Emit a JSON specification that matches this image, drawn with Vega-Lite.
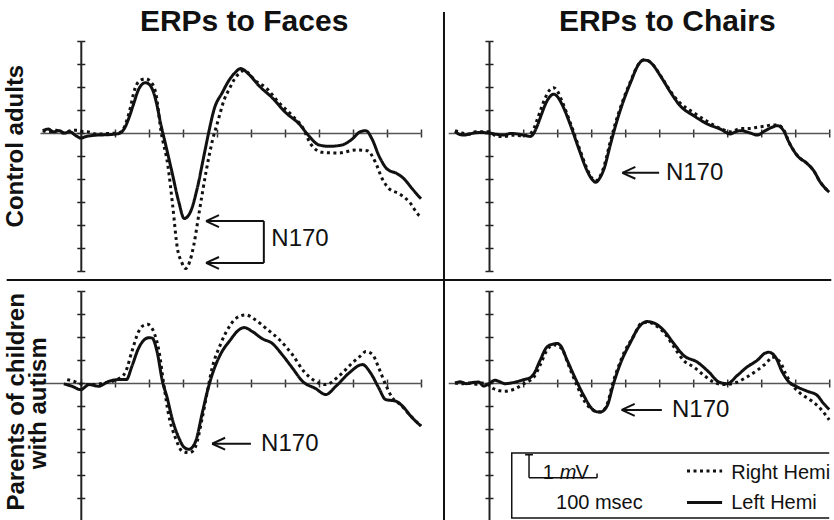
{
"$schema":"https://vega.github.io/schema/vega-lite/v6.json",
"padding":{"left":3,"top":6,"right":0,"bottom":0},
"background":"white",
"config":{"view":{"stroke":null},"font":"Liberation Sans"},
"datasets":{
"erp":[
{"p":"TL","h":"Left","t":-56,"v":0.1},{"p":"TL","h":"Left","t":-48,"v":0.17},{"p":"TL","h":"Left","t":-40,"v":0.05},{"p":"TL","h":"Left","t":-32,"v":0.1},{"p":"TL","h":"Left","t":-24,"v":0},{"p":"TL","h":"Left","t":-16,"v":0.05},{"p":"TL","h":"Left","t":-8,"v":-0.1},{"p":"TL","h":"Left","t":0,"v":-0.22},{"p":"TL","h":"Left","t":8,"v":-0.15},{"p":"TL","h":"Left","t":20,"v":-0.1},{"p":"TL","h":"Left","t":35,"v":-0.08},{"p":"TL","h":"Left","t":50,"v":-0.05},{"p":"TL","h":"Left","t":58,"v":0},{"p":"TL","h":"Left","t":65,"v":0.25},{"p":"TL","h":"Left","t":71,"v":0.68},{"p":"TL","h":"Left","t":78,"v":1.3},{"p":"TL","h":"Left","t":85,"v":1.9},{"p":"TL","h":"Left","t":95,"v":2.19},{"p":"TL","h":"Left","t":101,"v":2.1},{"p":"TL","h":"Left","t":107,"v":1.76},{"p":"TL","h":"Left","t":112,"v":1.2},{"p":"TL","h":"Left","t":117,"v":0.46},{"p":"TL","h":"Left","t":125,"v":-0.55},{"p":"TL","h":"Left","t":134,"v":-1.7},{"p":"TL","h":"Left","t":144,"v":-3.0},{"p":"TL","h":"Left","t":152,"v":-3.72},{"p":"TL","h":"Left","t":161,"v":-3.44},{"p":"TL","h":"Left","t":171,"v":-2.42},{"p":"TL","h":"Left","t":181,"v":-0.98},{"p":"TL","h":"Left","t":188,"v":0.03},{"p":"TL","h":"Left","t":196,"v":1.04},{"p":"TL","h":"Left","t":208,"v":1.76},{"p":"TL","h":"Left","t":218,"v":2.3},{"p":"TL","h":"Left","t":226,"v":2.6},{"p":"TL","h":"Left","t":235,"v":2.8},{"p":"TL","h":"Left","t":247,"v":2.55},{"p":"TL","h":"Left","t":262,"v":2.05},{"p":"TL","h":"Left","t":281,"v":1.54},{"p":"TL","h":"Left","t":301,"v":0.89},{"p":"TL","h":"Left","t":321,"v":0.39},{"p":"TL","h":"Left","t":335,"v":-0.12},{"p":"TL","h":"Left","t":350,"v":-0.52},{"p":"TL","h":"Left","t":365,"v":-0.58},{"p":"TL","h":"Left","t":384,"v":-0.52},{"p":"TL","h":"Left","t":399,"v":-0.26},{"p":"TL","h":"Left","t":411,"v":0.06},{"p":"TL","h":"Left","t":419,"v":0.1},{"p":"TL","h":"Left","t":428,"v":-0.26},{"p":"TL","h":"Left","t":438,"v":-0.98},{"p":"TL","h":"Left","t":450,"v":-1.56},{"p":"TL","h":"Left","t":465,"v":-1.77},{"p":"TL","h":"Left","t":475,"v":-1.99},{"p":"TL","h":"Left","t":487,"v":-2.42},{"p":"TL","h":"Left","t":500,"v":-2.86},
{"p":"TL","h":"Right","t":-56,"v":0.1},{"p":"TL","h":"Right","t":-46,"v":0.05},{"p":"TL","h":"Right","t":-36,"v":0.12},{"p":"TL","h":"Right","t":-26,"v":0},{"p":"TL","h":"Right","t":-15,"v":0.1},{"p":"TL","h":"Right","t":-5,"v":0.12},{"p":"TL","h":"Right","t":0,"v":0.08},{"p":"TL","h":"Right","t":10,"v":0.05},{"p":"TL","h":"Right","t":25,"v":-0.05},{"p":"TL","h":"Right","t":40,"v":-0.02},{"p":"TL","h":"Right","t":55,"v":0},{"p":"TL","h":"Right","t":62,"v":0.15},{"p":"TL","h":"Right","t":71,"v":0.89},{"p":"TL","h":"Right","t":80,"v":1.97},{"p":"TL","h":"Right","t":88,"v":2.3},{"p":"TL","h":"Right","t":95,"v":2.36},{"p":"TL","h":"Right","t":102,"v":2.25},{"p":"TL","h":"Right","t":110,"v":1.76},{"p":"TL","h":"Right","t":118,"v":0.05},{"p":"TL","h":"Right","t":128,"v":-1.42},{"p":"TL","h":"Right","t":135,"v":-3.15},{"p":"TL","h":"Right","t":142,"v":-5.02},{"p":"TL","h":"Right","t":148,"v":-5.6},{"p":"TL","h":"Right","t":154,"v":-5.89},{"p":"TL","h":"Right","t":160,"v":-5.6},{"p":"TL","h":"Right","t":166,"v":-4.88},{"p":"TL","h":"Right","t":174,"v":-3.44},{"p":"TL","h":"Right","t":184,"v":-1.7},{"p":"TL","h":"Right","t":194,"v":-0.26},{"p":"TL","h":"Right","t":201,"v":0.46},{"p":"TL","h":"Right","t":211,"v":1.47},{"p":"TL","h":"Right","t":218,"v":1.9},{"p":"TL","h":"Right","t":226,"v":2.35},{"p":"TL","h":"Right","t":233,"v":2.6},{"p":"TL","h":"Right","t":240,"v":2.72},{"p":"TL","h":"Right","t":257,"v":2.26},{"p":"TL","h":"Right","t":272,"v":1.97},{"p":"TL","h":"Right","t":291,"v":1.32},{"p":"TL","h":"Right","t":311,"v":0.75},{"p":"TL","h":"Right","t":326,"v":0.24},{"p":"TL","h":"Right","t":338,"v":-0.48},{"p":"TL","h":"Right","t":355,"v":-0.84},{"p":"TL","h":"Right","t":379,"v":-0.87},{"p":"TL","h":"Right","t":404,"v":-0.74},{"p":"TL","h":"Right","t":421,"v":-0.77},{"p":"TL","h":"Right","t":433,"v":-1.27},{"p":"TL","h":"Right","t":443,"v":-1.99},{"p":"TL","h":"Right","t":453,"v":-2.42},{"p":"TL","h":"Right","t":468,"v":-2.64},{"p":"TL","h":"Right","t":483,"v":-3.0},{"p":"TL","h":"Right","t":497,"v":-3.58},{"p":"TL","h":"Right","t":500,"v":-3.65},
{"p":"TR","h":"Left","t":-50,"v":0.06},{"p":"TR","h":"Left","t":-44,"v":-0.05},{"p":"TR","h":"Left","t":-37,"v":-0.09},{"p":"TR","h":"Left","t":-30,"v":-0.05},{"p":"TR","h":"Left","t":-22,"v":0},{"p":"TR","h":"Left","t":-12,"v":0.02},{"p":"TR","h":"Left","t":0,"v":0},{"p":"TR","h":"Left","t":10,"v":-0.05},{"p":"TR","h":"Left","t":22,"v":-0.09},{"p":"TR","h":"Left","t":32,"v":-0.02},{"p":"TR","h":"Left","t":41,"v":-0.04},{"p":"TR","h":"Left","t":52,"v":-0.1},{"p":"TR","h":"Left","t":61,"v":-0.15},{"p":"TR","h":"Left","t":66,"v":0},{"p":"TR","h":"Left","t":71,"v":0.32},{"p":"TR","h":"Left","t":77,"v":0.8},{"p":"TR","h":"Left","t":83,"v":1.26},{"p":"TR","h":"Left","t":90,"v":1.6},{"p":"TR","h":"Left","t":95,"v":1.69},{"p":"TR","h":"Left","t":100,"v":1.6},{"p":"TR","h":"Left","t":107,"v":1.26},{"p":"TR","h":"Left","t":120,"v":0.32},{"p":"TR","h":"Left","t":132,"v":-0.69},{"p":"TR","h":"Left","t":144,"v":-1.63},{"p":"TR","h":"Left","t":151,"v":-2.0},{"p":"TR","h":"Left","t":157,"v":-2.14},{"p":"TR","h":"Left","t":163,"v":-1.95},{"p":"TR","h":"Left","t":169,"v":-1.56},{"p":"TR","h":"Left","t":178,"v":-0.55},{"p":"TR","h":"Left","t":186,"v":0.32},{"p":"TR","h":"Left","t":196,"v":1.26},{"p":"TR","h":"Left","t":208,"v":2.19},{"p":"TR","h":"Left","t":220,"v":2.99},{"p":"TR","h":"Left","t":227,"v":3.17},{"p":"TR","h":"Left","t":233,"v":3.15},{"p":"TR","h":"Left","t":240,"v":2.99},{"p":"TR","h":"Left","t":252,"v":2.48},{"p":"TR","h":"Left","t":267,"v":1.76},{"p":"TR","h":"Left","t":281,"v":1.18},{"p":"TR","h":"Left","t":301,"v":0.75},{"p":"TR","h":"Left","t":321,"v":0.39},{"p":"TR","h":"Left","t":340,"v":0.17},{"p":"TR","h":"Left","t":355,"v":-0.04},{"p":"TR","h":"Left","t":362,"v":0.05},{"p":"TR","h":"Left","t":370,"v":0.1},{"p":"TR","h":"Left","t":384,"v":0},{"p":"TR","h":"Left","t":394,"v":-0.09},{"p":"TR","h":"Left","t":406,"v":0.1},{"p":"TR","h":"Left","t":416,"v":0.25},{"p":"TR","h":"Left","t":424,"v":0.32},{"p":"TR","h":"Left","t":433,"v":0.1},{"p":"TR","h":"Left","t":441,"v":-0.41},{"p":"TR","h":"Left","t":453,"v":-0.98},{"p":"TR","h":"Left","t":468,"v":-1.34},{"p":"TR","h":"Left","t":477,"v":-1.63},{"p":"TR","h":"Left","t":487,"v":-2.14},{"p":"TR","h":"Left","t":500,"v":-2.57},
{"p":"TR","h":"Right","t":-50,"v":0.1},{"p":"TR","h":"Right","t":-40,"v":0},{"p":"TR","h":"Right","t":-30,"v":-0.05},{"p":"TR","h":"Right","t":-20,"v":0.05},{"p":"TR","h":"Right","t":0,"v":0.05},{"p":"TR","h":"Right","t":10,"v":-0.12},{"p":"TR","h":"Right","t":22,"v":-0.15},{"p":"TR","h":"Right","t":35,"v":-0.1},{"p":"TR","h":"Right","t":50,"v":-0.12},{"p":"TR","h":"Right","t":60,"v":-0.05},{"p":"TR","h":"Right","t":66,"v":0.2},{"p":"TR","h":"Right","t":71,"v":0.6},{"p":"TR","h":"Right","t":77,"v":1.1},{"p":"TR","h":"Right","t":83,"v":1.55},{"p":"TR","h":"Right","t":90,"v":1.9},{"p":"TR","h":"Right","t":95,"v":1.97},{"p":"TR","h":"Right","t":100,"v":1.85},{"p":"TR","h":"Right","t":107,"v":1.4},{"p":"TR","h":"Right","t":120,"v":0.4},{"p":"TR","h":"Right","t":132,"v":-0.6},{"p":"TR","h":"Right","t":144,"v":-1.55},{"p":"TR","h":"Right","t":151,"v":-1.95},{"p":"TR","h":"Right","t":157,"v":-2.08},{"p":"TR","h":"Right","t":163,"v":-1.9},{"p":"TR","h":"Right","t":169,"v":-1.45},{"p":"TR","h":"Right","t":178,"v":-0.4},{"p":"TR","h":"Right","t":186,"v":0.45},{"p":"TR","h":"Right","t":196,"v":1.35},{"p":"TR","h":"Right","t":208,"v":2.25},{"p":"TR","h":"Right","t":220,"v":3.0},{"p":"TR","h":"Right","t":227,"v":3.17},{"p":"TR","h":"Right","t":233,"v":3.15},{"p":"TR","h":"Right","t":240,"v":3.0},{"p":"TR","h":"Right","t":252,"v":2.5},{"p":"TR","h":"Right","t":267,"v":1.8},{"p":"TR","h":"Right","t":281,"v":1.3},{"p":"TR","h":"Right","t":301,"v":0.88},{"p":"TR","h":"Right","t":321,"v":0.5},{"p":"TR","h":"Right","t":340,"v":0.2},{"p":"TR","h":"Right","t":355,"v":0.05},{"p":"TR","h":"Right","t":370,"v":0.2},{"p":"TR","h":"Right","t":384,"v":0.2},{"p":"TR","h":"Right","t":394,"v":0.25},{"p":"TR","h":"Right","t":406,"v":0.3},{"p":"TR","h":"Right","t":416,"v":0.35},{"p":"TR","h":"Right","t":424,"v":0.35},{"p":"TR","h":"Right","t":433,"v":0.15},{"p":"TR","h":"Right","t":441,"v":-0.4},{"p":"TR","h":"Right","t":453,"v":-0.98},{"p":"TR","h":"Right","t":468,"v":-1.34},{"p":"TR","h":"Right","t":477,"v":-1.63},{"p":"TR","h":"Right","t":487,"v":-2.14},{"p":"TR","h":"Right","t":500,"v":-2.57},
{"p":"BL","h":"Left","t":-25,"v":-0.04},{"p":"BL","h":"Left","t":-13,"v":-0.14},{"p":"BL","h":"Left","t":0,"v":-0.29},{"p":"BL","h":"Left","t":12,"v":-0.07},{"p":"BL","h":"Left","t":26,"v":-0.14},{"p":"BL","h":"Left","t":41,"v":0.07},{"p":"BL","h":"Left","t":56,"v":0.15},{"p":"BL","h":"Left","t":67,"v":0.15},{"p":"BL","h":"Left","t":75,"v":0.72},{"p":"BL","h":"Left","t":85,"v":1.52},{"p":"BL","h":"Left","t":95,"v":1.92},{"p":"BL","h":"Left","t":100,"v":1.97},{"p":"BL","h":"Left","t":105,"v":1.95},{"p":"BL","h":"Left","t":112,"v":1.37},{"p":"BL","h":"Left","t":120,"v":0.07},{"p":"BL","h":"Left","t":127,"v":-0.65},{"p":"BL","h":"Left","t":134,"v":-1.52},{"p":"BL","h":"Left","t":144,"v":-2.38},{"p":"BL","h":"Left","t":152,"v":-2.8},{"p":"BL","h":"Left","t":159,"v":-2.88},{"p":"BL","h":"Left","t":165,"v":-2.75},{"p":"BL","h":"Left","t":169,"v":-2.52},{"p":"BL","h":"Left","t":178,"v":-1.37},{"p":"BL","h":"Left","t":186,"v":-0.36},{"p":"BL","h":"Left","t":193,"v":0.36},{"p":"BL","h":"Left","t":205,"v":1.23},{"p":"BL","h":"Left","t":220,"v":1.88},{"p":"BL","h":"Left","t":230,"v":2.25},{"p":"BL","h":"Left","t":240,"v":2.41},{"p":"BL","h":"Left","t":252,"v":2.24},{"p":"BL","h":"Left","t":267,"v":1.92},{"p":"BL","h":"Left","t":281,"v":1.73},{"p":"BL","h":"Left","t":296,"v":1.23},{"p":"BL","h":"Left","t":311,"v":0.65},{"p":"BL","h":"Left","t":326,"v":0.07},{"p":"BL","h":"Left","t":345,"v":-0.24},{"p":"BL","h":"Left","t":360,"v":-0.5},{"p":"BL","h":"Left","t":375,"v":-0.14},{"p":"BL","h":"Left","t":394,"v":0.43},{"p":"BL","h":"Left","t":414,"v":0.8},{"p":"BL","h":"Left","t":426,"v":0.43},{"p":"BL","h":"Left","t":438,"v":-0.22},{"p":"BL","h":"Left","t":448,"v":-0.72},{"p":"BL","h":"Left","t":463,"v":-0.79},{"p":"BL","h":"Left","t":473,"v":-1.01},{"p":"BL","h":"Left","t":485,"v":-1.44},{"p":"BL","h":"Left","t":500,"v":-1.87},
{"p":"BL","h":"Right","t":-20,"v":0.15},{"p":"BL","h":"Right","t":-8,"v":0.05},{"p":"BL","h":"Right","t":0,"v":-0.04},{"p":"BL","h":"Right","t":15,"v":-0.07},{"p":"BL","h":"Right","t":34,"v":0},{"p":"BL","h":"Right","t":56,"v":0.19},{"p":"BL","h":"Right","t":66,"v":0.5},{"p":"BL","h":"Right","t":75,"v":1.37},{"p":"BL","h":"Right","t":85,"v":2.24},{"p":"BL","h":"Right","t":92,"v":2.5},{"p":"BL","h":"Right","t":98,"v":2.55},{"p":"BL","h":"Right","t":103,"v":2.45},{"p":"BL","h":"Right","t":107,"v":2.24},{"p":"BL","h":"Right","t":115,"v":1.37},{"p":"BL","h":"Right","t":122,"v":-0.07},{"p":"BL","h":"Right","t":129,"v":-1.37},{"p":"BL","h":"Right","t":139,"v":-2.38},{"p":"BL","h":"Right","t":149,"v":-2.96},{"p":"BL","h":"Right","t":159,"v":-3.03},{"p":"BL","h":"Right","t":165,"v":-2.95},{"p":"BL","h":"Right","t":169,"v":-2.74},{"p":"BL","h":"Right","t":178,"v":-1.59},{"p":"BL","h":"Right","t":186,"v":-0.36},{"p":"BL","h":"Right","t":193,"v":0.65},{"p":"BL","h":"Right","t":205,"v":1.66},{"p":"BL","h":"Right","t":220,"v":2.53},{"p":"BL","h":"Right","t":228,"v":2.81},{"p":"BL","h":"Right","t":242,"v":2.96},{"p":"BL","h":"Right","t":257,"v":2.74},{"p":"BL","h":"Right","t":272,"v":2.38},{"p":"BL","h":"Right","t":292,"v":1.88},{"p":"BL","h":"Right","t":311,"v":1.23},{"p":"BL","h":"Right","t":328,"v":0.5},{"p":"BL","h":"Right","t":345,"v":0.07},{"p":"BL","h":"Right","t":360,"v":-0.07},{"p":"BL","h":"Right","t":379,"v":0.29},{"p":"BL","h":"Right","t":399,"v":0.87},{"p":"BL","h":"Right","t":412,"v":1.2},{"p":"BL","h":"Right","t":419,"v":1.37},{"p":"BL","h":"Right","t":429,"v":1.23},{"p":"BL","h":"Right","t":438,"v":0.65},{"p":"BL","h":"Right","t":448,"v":-0.07},{"p":"BL","h":"Right","t":458,"v":-0.65},{"p":"BL","h":"Right","t":470,"v":-0.95},{"p":"BL","h":"Right","t":485,"v":-1.44},{"p":"BL","h":"Right","t":500,"v":-1.87},
{"p":"BR","h":"Left","t":-50,"v":0},{"p":"BR","h":"Left","t":-42,"v":0.05},{"p":"BR","h":"Left","t":-33,"v":-0.03},{"p":"BR","h":"Left","t":-24,"v":0.02},{"p":"BR","h":"Left","t":-15,"v":0.04},{"p":"BR","h":"Left","t":-8,"v":-0.13},{"p":"BR","h":"Left","t":0,"v":-0.03},{"p":"BR","h":"Left","t":9,"v":0.12},{"p":"BR","h":"Left","t":16,"v":0.05},{"p":"BR","h":"Left","t":24,"v":-0.03},{"p":"BR","h":"Left","t":32,"v":0},{"p":"BR","h":"Left","t":39,"v":0.04},{"p":"BR","h":"Left","t":46,"v":0.1},{"p":"BR","h":"Left","t":53,"v":0.16},{"p":"BR","h":"Left","t":60,"v":0.22},{"p":"BR","h":"Left","t":66,"v":0.4},{"p":"BR","h":"Left","t":75,"v":0.98},{"p":"BR","h":"Left","t":85,"v":1.56},{"p":"BR","h":"Left","t":95,"v":1.7},{"p":"BR","h":"Left","t":100,"v":1.72},{"p":"BR","h":"Left","t":105,"v":1.63},{"p":"BR","h":"Left","t":115,"v":0.98},{"p":"BR","h":"Left","t":127,"v":0.19},{"p":"BR","h":"Left","t":139,"v":-0.53},{"p":"BR","h":"Left","t":151,"v":-1.11},{"p":"BR","h":"Left","t":158,"v":-1.25},{"p":"BR","h":"Left","t":164,"v":-1.26},{"p":"BR","h":"Left","t":170,"v":-1.15},{"p":"BR","h":"Left","t":174,"v":-0.97},{"p":"BR","h":"Left","t":183,"v":-0.03},{"p":"BR","h":"Left","t":193,"v":0.84},{"p":"BR","h":"Left","t":208,"v":1.77},{"p":"BR","h":"Left","t":220,"v":2.42},{"p":"BR","h":"Left","t":232,"v":2.67},{"p":"BR","h":"Left","t":245,"v":2.57},{"p":"BR","h":"Left","t":257,"v":2.28},{"p":"BR","h":"Left","t":272,"v":1.7},{"p":"BR","h":"Left","t":286,"v":1.2},{"p":"BR","h":"Left","t":306,"v":0.91},{"p":"BR","h":"Left","t":323,"v":0.48},{"p":"BR","h":"Left","t":338,"v":0.04},{"p":"BR","h":"Left","t":350,"v":-0.03},{"p":"BR","h":"Left","t":365,"v":0.33},{"p":"BR","h":"Left","t":379,"v":0.69},{"p":"BR","h":"Left","t":394,"v":0.98},{"p":"BR","h":"Left","t":406,"v":1.3},{"p":"BR","h":"Left","t":411,"v":1.34},{"p":"BR","h":"Left","t":421,"v":1.13},{"p":"BR","h":"Left","t":431,"v":0.48},{"p":"BR","h":"Left","t":441,"v":0.04},{"p":"BR","h":"Left","t":453,"v":-0.17},{"p":"BR","h":"Left","t":468,"v":-0.36},{"p":"BR","h":"Left","t":482,"v":-0.53},{"p":"BR","h":"Left","t":492,"v":-0.9},{"p":"BR","h":"Left","t":500,"v":-1.15},
{"p":"BR","h":"Right","t":-50,"v":0},{"p":"BR","h":"Right","t":-40,"v":-0.03},{"p":"BR","h":"Right","t":-30,"v":0},{"p":"BR","h":"Right","t":-20,"v":-0.05},{"p":"BR","h":"Right","t":-10,"v":0},{"p":"BR","h":"Right","t":0,"v":-0.1},{"p":"BR","h":"Right","t":7,"v":-0.25},{"p":"BR","h":"Right","t":22,"v":-0.36},{"p":"BR","h":"Right","t":37,"v":-0.27},{"p":"BR","h":"Right","t":51,"v":-0.03},{"p":"BR","h":"Right","t":66,"v":0.26},{"p":"BR","h":"Right","t":75,"v":0.77},{"p":"BR","h":"Right","t":85,"v":1.42},{"p":"BR","h":"Right","t":95,"v":1.66},{"p":"BR","h":"Right","t":100,"v":1.62},{"p":"BR","h":"Right","t":107,"v":1.49},{"p":"BR","h":"Right","t":117,"v":0.77},{"p":"BR","h":"Right","t":129,"v":-0.1},{"p":"BR","h":"Right","t":141,"v":-0.82},{"p":"BR","h":"Right","t":153,"v":-1.18},{"p":"BR","h":"Right","t":164,"v":-1.26},{"p":"BR","h":"Right","t":174,"v":-0.9},{"p":"BR","h":"Right","t":181,"v":-0.1},{"p":"BR","h":"Right","t":189,"v":0.62},{"p":"BR","h":"Right","t":200,"v":1.41},{"p":"BR","h":"Right","t":213,"v":2.06},{"p":"BR","h":"Right","t":223,"v":2.57},{"p":"BR","h":"Right","t":235,"v":2.64},{"p":"BR","h":"Right","t":245,"v":2.5},{"p":"BR","h":"Right","t":257,"v":2.2},{"p":"BR","h":"Right","t":272,"v":1.56},{"p":"BR","h":"Right","t":286,"v":0.98},{"p":"BR","h":"Right","t":301,"v":0.69},{"p":"BR","h":"Right","t":316,"v":0.33},{"p":"BR","h":"Right","t":330,"v":0.04},{"p":"BR","h":"Right","t":345,"v":-0.07},{"p":"BR","h":"Right","t":365,"v":0.04},{"p":"BR","h":"Right","t":379,"v":0.26},{"p":"BR","h":"Right","t":394,"v":0.55},{"p":"BR","h":"Right","t":409,"v":0.91},{"p":"BR","h":"Right","t":416,"v":1.13},{"p":"BR","h":"Right","t":428,"v":0.91},{"p":"BR","h":"Right","t":436,"v":0.4},{"p":"BR","h":"Right","t":446,"v":-0.1},{"p":"BR","h":"Right","t":458,"v":-0.46},{"p":"BR","h":"Right","t":473,"v":-0.75},{"p":"BR","h":"Right","t":487,"v":-1.11},{"p":"BR","h":"Right","t":500,"v":-1.6}
],
"arrows":[
{"p":"TL","t":184,"t2":269,"v":-3.83},{"p":"TL","t":184,"t2":269,"v":-5.65},
{"p":"TR","t":196,"t2":250,"v":-1.73},{"p":"BL","t":193,"t2":250,"v":-2.64},{"p":"BR","t":195,"t2":254,"v":-1.17}
],
"bracket":[{"t":269,"v":-3.83,"v2":-5.65}],
"n170":[
{"p":"TL","t":280,"v":-4.6,"text":"N170"},{"p":"TR","t":260,"v":-1.73,"text":"N170"},{"p":"BL","t":265,"v":-2.64,"text":"N170"},{"p":"BR","t":269,"v":-1.17,"text":"N170"}
],
"titles":[{"p":"TL","t":240,"v":4.83,"text":"ERPs to Faces"},{"p":"TR","t":262,"v":4.83,"text":"ERPs to Chairs"}],
"rowlabels":[{"p":"TL","t":-96,"v":-0.57,"text":"Control adults"},{"p":"BL","t":-94,"v":-0.82,"text":"Parents of children"},{"p":"BL","t":-61,"v":-0.88,"text":"with autism"}],
"dividers":[
{"p":"TL","t":-109,"t2":534,"v":-6.39,"v2":-6.39},
{"p":"TR","t":-66.2,"t2":503,"v":-6.39,"v2":-6.39},
{"p":"TR","t":-66.2,"t2":-66.2,"v":5.26,"v2":-6.39},
{"p":"BR","t":-66.2,"t2":-66.2,"v":4.48,"v2":-6}
],
"legbox":[{"t":33.4,"t2":520,"v":-3.04,"v2":-5.87}],
"legbar":[{"t":58.8,"t2":58.8,"v":-3.12,"v2":-4.12},{"t":53,"t2":64.6,"v":-3.12,"v2":-3.12},{"t":58.8,"t2":158.8,"v":-4.12,"v2":-4.12},{"t":158.8,"t2":158.8,"v":-3.93,"v2":-4.12}],
"legsample":[{"h":"Right","t":291,"t2":342.6,"v":-3.83},{"h":"Left","t":291,"t2":342.6,"v":-5.2}],
"legtext":[{"text":"1","t":79,"v":-3.9},{"text":"V","t":127,"v":-3.9},{"text":"Right Hemi","t":356,"v":-3.9},{"text":"Left Hemi","t":356,"v":-5.2},{"text":"100 msec","t":98.5,"v":-5.2}],
"legital":[{"text":"m","t":104,"v":-3.9}]
},
"bounds":"flush",
"columns":2,
"spacing":{"row":20,"column":27.2},
"concat":[
{"width":381,"height":230,"resolve":{"axis":{"x":"independent","y":"independent"}},"layer":[
{"data":{"name":"erp"},"transform":[{"filter":"datum.p==='TL'"}],"mark":{"type":"point","opacity":0},"encoding":{
"x":{"field":"t","type":"quantitative","scale":{"domain":[-60,500],"nice":false},"axis":{"orient":"top","offset":-92,"values":[0,50,100,150,200,250,300,350,400,450,500],"labels":false,"title":null,"grid":false,"domain":false,"tickSize":4,"tickWidth":1.5,"tickColor":"#333"}},
"y":{"field":"v","type":"quantitative","scale":{"domain":[-6,4],"nice":false},"axis":{"orient":"right","offset":-340.2,"values":[-6,-5,-4,-3,-2,-1,0,1,2,3,4],"labels":false,"title":null,"grid":false,"domain":false,"tickSize":4,"tickWidth":1.5,"tickColor":"#222"}}}},
{"data":{"name":"erp"},"transform":[{"filter":"datum.p==='TL'"}],"mark":{"type":"line","interpolate":"monotone","strokeWidth":3,"color":"#111"},"encoding":{
"x":{"field":"t","type":"quantitative","scale":{"domain":[-60,500],"nice":false},"axis":{"orient":"bottom","offset":-138,"values":[0,50,100,150,200,250,300,350,400,450,500],"labels":false,"title":null,"grid":false,"tickSize":4,"tickWidth":1.5,"tickColor":"#333","domainColor":"#555","domainWidth":1.5}},
"y":{"field":"v","type":"quantitative","scale":{"domain":[-6,4],"nice":false},"axis":{"orient":"left","offset":-40.8,"values":[-6,-5,-4,-3,-2,-1,0,1,2,3,4],"labels":false,"title":null,"grid":false,"tickSize":4,"tickWidth":1.5,"tickColor":"#222","domainColor":"#222","domainWidth":2}},
"strokeDash":{"field":"h","type":"nominal","scale":{"domain":["Left","Right"],"range":[[1,0],[3,3.5]]},"legend":null}}},
{"data":{"name":"arrows"},"transform":[{"filter":"datum.p==='TL'"}],"mark":{"type":"rule","strokeWidth":2,"color":"#111"},"encoding":{"x":{"field":"t","type":"quantitative","scale":{"domain":[-60,500],"nice":false},"axis":null},"x2":{"field":"t2"},"y":{"field":"v","type":"quantitative","scale":{"domain":[-6,4],"nice":false},"axis":null}}},
{"data":{"name":"arrows"},"transform":[{"filter":"datum.p==='TL'"}],"mark":{"type":"point","shape":"M0,0L1,-0.46M0,0L1,0.46","size":676,"filled":false,"strokeWidth":2,"color":"#111","opacity":1},"encoding":{"x":{"field":"t","type":"quantitative","scale":{"domain":[-60,500],"nice":false},"axis":null},"y":{"field":"v","type":"quantitative","scale":{"domain":[-6,4],"nice":false},"axis":null}}},
{"data":{"name":"n170"},"transform":[{"filter":"datum.p==='TL'"}],"mark":{"type":"text","align":"left","baseline":"middle","fontSize":24,"color":"#111"},"encoding":{"x":{"field":"t","type":"quantitative","scale":{"domain":[-60,500],"nice":false},"axis":null},"y":{"field":"v","type":"quantitative","scale":{"domain":[-6,4],"nice":false},"axis":null},"text":{"field":"text"}}},
{"data":{"name":"bracket"},"mark":{"type":"rule","strokeWidth":2,"color":"#111"},"encoding":{"x":{"field":"t","type":"quantitative","scale":{"domain":[-60,500],"nice":false},"axis":null},"y":{"field":"v","type":"quantitative","scale":{"domain":[-6,4],"nice":false},"axis":null},"y2":{"field":"v2"}}},
{"data":{"name":"titles"},"transform":[{"filter":"datum.p==='TL'"}],"mark":{"type":"text","align":"center","baseline":"middle","fontSize":30,"fontWeight":"bold","color":"#111"},"encoding":{"x":{"field":"t","type":"quantitative","scale":{"domain":[-60,500],"nice":false},"axis":null},"y":{"field":"v","type":"quantitative","scale":{"domain":[-6,4],"nice":false},"axis":null},"text":{"field":"text"}}},
{"data":{"name":"rowlabels"},"transform":[{"filter":"datum.p==='TL'"}],"mark":{"type":"text","align":"center","baseline":"middle","angle":270,"fontSize":24,"fontWeight":"bold","color":"#111"},"encoding":{"x":{"field":"t","type":"quantitative","scale":{"domain":[-60,500],"nice":false},"axis":null},"y":{"field":"v","type":"quantitative","scale":{"domain":[-6,4],"nice":false},"axis":null},"text":{"field":"text"}}},
{"data":{"name":"dividers"},"transform":[{"filter":"datum.p==='TL'"}],"mark":{"type":"rule","strokeWidth":2,"color":"#111"},"encoding":{"x":{"field":"t","type":"quantitative","scale":{"domain":[-60,500],"nice":false},"axis":null},"x2":{"field":"t2"},"y":{"field":"v","type":"quantitative","scale":{"domain":[-6,4],"nice":false},"axis":null},"y2":{"field":"v2"}}}
]},
{"width":381,"height":230,"resolve":{"axis":{"x":"independent","y":"independent"}},"layer":[
{"data":{"name":"erp"},"transform":[{"filter":"datum.p==='TR'"}],"mark":{"type":"point","opacity":0},"encoding":{
"x":{"field":"t","type":"quantitative","scale":{"domain":[-60,500],"nice":false},"axis":{"orient":"top","offset":-92,"values":[0,50,100,150,200,250,300,350,400,450,500],"labels":false,"title":null,"grid":false,"domain":false,"tickSize":4,"tickWidth":1.5,"tickColor":"#333"}},
"y":{"field":"v","type":"quantitative","scale":{"domain":[-6,4],"nice":false},"axis":{"orient":"right","offset":-340.2,"values":[-6,-5,-4,-3,-2,-1,0,1,2,3,4],"labels":false,"title":null,"grid":false,"domain":false,"tickSize":4,"tickWidth":1.5,"tickColor":"#222"}}}},
{"data":{"name":"erp"},"transform":[{"filter":"datum.p==='TR'"}],"mark":{"type":"line","interpolate":"monotone","strokeWidth":3,"color":"#111"},"encoding":{
"x":{"field":"t","type":"quantitative","scale":{"domain":[-60,500],"nice":false},"axis":{"orient":"bottom","offset":-138,"values":[0,50,100,150,200,250,300,350,400,450,500],"labels":false,"title":null,"grid":false,"tickSize":4,"tickWidth":1.5,"tickColor":"#333","domainColor":"#555","domainWidth":1.5}},
"y":{"field":"v","type":"quantitative","scale":{"domain":[-6,4],"nice":false},"axis":{"orient":"left","offset":-40.8,"values":[-6,-5,-4,-3,-2,-1,0,1,2,3,4],"labels":false,"title":null,"grid":false,"tickSize":4,"tickWidth":1.5,"tickColor":"#222","domainColor":"#222","domainWidth":2}},
"strokeDash":{"field":"h","type":"nominal","scale":{"domain":["Left","Right"],"range":[[1,0],[3,3.5]]},"legend":null}}},
{"data":{"name":"arrows"},"transform":[{"filter":"datum.p==='TR'"}],"mark":{"type":"rule","strokeWidth":2,"color":"#111"},"encoding":{"x":{"field":"t","type":"quantitative","scale":{"domain":[-60,500],"nice":false},"axis":null},"x2":{"field":"t2"},"y":{"field":"v","type":"quantitative","scale":{"domain":[-6,4],"nice":false},"axis":null}}},
{"data":{"name":"arrows"},"transform":[{"filter":"datum.p==='TR'"}],"mark":{"type":"point","shape":"M0,0L1,-0.46M0,0L1,0.46","size":676,"filled":false,"strokeWidth":2,"color":"#111","opacity":1},"encoding":{"x":{"field":"t","type":"quantitative","scale":{"domain":[-60,500],"nice":false},"axis":null},"y":{"field":"v","type":"quantitative","scale":{"domain":[-6,4],"nice":false},"axis":null}}},
{"data":{"name":"n170"},"transform":[{"filter":"datum.p==='TR'"}],"mark":{"type":"text","align":"left","baseline":"middle","fontSize":24,"color":"#111"},"encoding":{"x":{"field":"t","type":"quantitative","scale":{"domain":[-60,500],"nice":false},"axis":null},"y":{"field":"v","type":"quantitative","scale":{"domain":[-6,4],"nice":false},"axis":null},"text":{"field":"text"}}},
{"data":{"name":"titles"},"transform":[{"filter":"datum.p==='TR'"}],"mark":{"type":"text","align":"center","baseline":"middle","fontSize":30,"fontWeight":"bold","color":"#111"},"encoding":{"x":{"field":"t","type":"quantitative","scale":{"domain":[-60,500],"nice":false},"axis":null},"y":{"field":"v","type":"quantitative","scale":{"domain":[-6,4],"nice":false},"axis":null},"text":{"field":"text"}}},
{"data":{"name":"dividers"},"transform":[{"filter":"datum.p==='TR'"}],"mark":{"type":"rule","strokeWidth":2,"color":"#111"},"encoding":{"x":{"field":"t","type":"quantitative","scale":{"domain":[-60,500],"nice":false},"axis":null},"x2":{"field":"t2"},"y":{"field":"v","type":"quantitative","scale":{"domain":[-6,4],"nice":false},"axis":null},"y2":{"field":"v2"}}}
]},
{"width":381,"height":230,"resolve":{"axis":{"x":"independent","y":"independent"}},"layer":[
{"data":{"name":"erp"},"transform":[{"filter":"datum.p==='BL'"}],"mark":{"type":"point","opacity":0},"encoding":{
"x":{"field":"t","type":"quantitative","scale":{"domain":[-60,500],"nice":false},"axis":{"orient":"top","offset":-92,"values":[0,50,100,150,200,250,300,350,400,450,500],"labels":false,"title":null,"grid":false,"domain":false,"tickSize":4,"tickWidth":1.5,"tickColor":"#333"}},
"y":{"field":"v","type":"quantitative","scale":{"domain":[-6,4],"nice":false},"axis":{"orient":"right","offset":-340.2,"values":[-6,-5,-4,-3,-2,-1,0,1,2,3,4],"labels":false,"title":null,"grid":false,"domain":false,"tickSize":4,"tickWidth":1.5,"tickColor":"#222"}}}},
{"data":{"name":"erp"},"transform":[{"filter":"datum.p==='BL'"}],"mark":{"type":"line","interpolate":"monotone","strokeWidth":3,"color":"#111"},"encoding":{
"x":{"field":"t","type":"quantitative","scale":{"domain":[-60,500],"nice":false},"axis":{"orient":"bottom","offset":-138,"values":[0,50,100,150,200,250,300,350,400,450,500],"labels":false,"title":null,"grid":false,"tickSize":4,"tickWidth":1.5,"tickColor":"#333","domainColor":"#555","domainWidth":1.5}},
"y":{"field":"v","type":"quantitative","scale":{"domain":[-6,4],"nice":false},"axis":{"orient":"left","offset":-40.8,"values":[-6,-5,-4,-3,-2,-1,0,1,2,3,4],"labels":false,"title":null,"grid":false,"tickSize":4,"tickWidth":1.5,"tickColor":"#222","domainColor":"#222","domainWidth":2}},
"strokeDash":{"field":"h","type":"nominal","scale":{"domain":["Left","Right"],"range":[[1,0],[3,3.5]]},"legend":null}}},
{"data":{"name":"arrows"},"transform":[{"filter":"datum.p==='BL'"}],"mark":{"type":"rule","strokeWidth":2,"color":"#111"},"encoding":{"x":{"field":"t","type":"quantitative","scale":{"domain":[-60,500],"nice":false},"axis":null},"x2":{"field":"t2"},"y":{"field":"v","type":"quantitative","scale":{"domain":[-6,4],"nice":false},"axis":null}}},
{"data":{"name":"arrows"},"transform":[{"filter":"datum.p==='BL'"}],"mark":{"type":"point","shape":"M0,0L1,-0.46M0,0L1,0.46","size":676,"filled":false,"strokeWidth":2,"color":"#111","opacity":1},"encoding":{"x":{"field":"t","type":"quantitative","scale":{"domain":[-60,500],"nice":false},"axis":null},"y":{"field":"v","type":"quantitative","scale":{"domain":[-6,4],"nice":false},"axis":null}}},
{"data":{"name":"n170"},"transform":[{"filter":"datum.p==='BL'"}],"mark":{"type":"text","align":"left","baseline":"middle","fontSize":24,"color":"#111"},"encoding":{"x":{"field":"t","type":"quantitative","scale":{"domain":[-60,500],"nice":false},"axis":null},"y":{"field":"v","type":"quantitative","scale":{"domain":[-6,4],"nice":false},"axis":null},"text":{"field":"text"}}},
{"data":{"name":"rowlabels"},"transform":[{"filter":"datum.p==='BL'"}],"mark":{"type":"text","align":"center","baseline":"middle","angle":270,"fontSize":24,"fontWeight":"bold","color":"#111"},"encoding":{"x":{"field":"t","type":"quantitative","scale":{"domain":[-60,500],"nice":false},"axis":null},"y":{"field":"v","type":"quantitative","scale":{"domain":[-6,4],"nice":false},"axis":null},"text":{"field":"text"}}}
]},
{"width":381,"height":230,"resolve":{"axis":{"x":"independent","y":"independent"}},"layer":[
{"data":{"name":"erp"},"transform":[{"filter":"datum.p==='BR'"}],"mark":{"type":"point","opacity":0},"encoding":{
"x":{"field":"t","type":"quantitative","scale":{"domain":[-60,500],"nice":false},"axis":{"orient":"top","offset":-92,"values":[0,50,100,150,200,250,300,350,400,450,500],"labels":false,"title":null,"grid":false,"domain":false,"tickSize":4,"tickWidth":1.5,"tickColor":"#333"}},
"y":{"field":"v","type":"quantitative","scale":{"domain":[-6,4],"nice":false},"axis":{"orient":"right","offset":-340.2,"values":[-6,-5,-4,-3,-2,-1,0,1,2,3,4],"labels":false,"title":null,"grid":false,"domain":false,"tickSize":4,"tickWidth":1.5,"tickColor":"#222"}}}},
{"data":{"name":"erp"},"transform":[{"filter":"datum.p==='BR'"}],"mark":{"type":"line","interpolate":"monotone","strokeWidth":3,"color":"#111"},"encoding":{
"x":{"field":"t","type":"quantitative","scale":{"domain":[-60,500],"nice":false},"axis":{"orient":"bottom","offset":-138,"values":[0,50,100,150,200,250,300,350,400,450,500],"labels":false,"title":null,"grid":false,"tickSize":4,"tickWidth":1.5,"tickColor":"#333","domainColor":"#555","domainWidth":1.5}},
"y":{"field":"v","type":"quantitative","scale":{"domain":[-6,4],"nice":false},"axis":{"orient":"left","offset":-40.8,"values":[-6,-5,-4,-3,-2,-1,0,1,2,3,4],"labels":false,"title":null,"grid":false,"tickSize":4,"tickWidth":1.5,"tickColor":"#222","domainColor":"#222","domainWidth":2}},
"strokeDash":{"field":"h","type":"nominal","scale":{"domain":["Left","Right"],"range":[[1,0],[3,3.5]]},"legend":null}}},
{"data":{"name":"arrows"},"transform":[{"filter":"datum.p==='BR'"}],"mark":{"type":"rule","strokeWidth":2,"color":"#111"},"encoding":{"x":{"field":"t","type":"quantitative","scale":{"domain":[-60,500],"nice":false},"axis":null},"x2":{"field":"t2"},"y":{"field":"v","type":"quantitative","scale":{"domain":[-6,4],"nice":false},"axis":null}}},
{"data":{"name":"arrows"},"transform":[{"filter":"datum.p==='BR'"}],"mark":{"type":"point","shape":"M0,0L1,-0.46M0,0L1,0.46","size":676,"filled":false,"strokeWidth":2,"color":"#111","opacity":1},"encoding":{"x":{"field":"t","type":"quantitative","scale":{"domain":[-60,500],"nice":false},"axis":null},"y":{"field":"v","type":"quantitative","scale":{"domain":[-6,4],"nice":false},"axis":null}}},
{"data":{"name":"n170"},"transform":[{"filter":"datum.p==='BR'"}],"mark":{"type":"text","align":"left","baseline":"middle","fontSize":24,"color":"#111"},"encoding":{"x":{"field":"t","type":"quantitative","scale":{"domain":[-60,500],"nice":false},"axis":null},"y":{"field":"v","type":"quantitative","scale":{"domain":[-6,4],"nice":false},"axis":null},"text":{"field":"text"}}},
{"data":{"name":"dividers"},"transform":[{"filter":"datum.p==='BR'"}],"mark":{"type":"rule","strokeWidth":2,"color":"#111"},"encoding":{"x":{"field":"t","type":"quantitative","scale":{"domain":[-60,500],"nice":false},"axis":null},"x2":{"field":"t2"},"y":{"field":"v","type":"quantitative","scale":{"domain":[-6,4],"nice":false},"axis":null},"y2":{"field":"v2"}}},
{"data":{"name":"legbox"},"mark":{"type":"rect","fill":"white","stroke":"#111","strokeWidth":1.5,"clip":true},"encoding":{"x":{"field":"t","type":"quantitative","scale":{"domain":[-60,500],"nice":false},"axis":null},"x2":{"field":"t2"},"y":{"field":"v","type":"quantitative","scale":{"domain":[-6,4],"nice":false},"axis":null},"y2":{"field":"v2"}}},
{"data":{"name":"legbar"},"mark":{"type":"rule","strokeWidth":1.5,"color":"#111"},"encoding":{"x":{"field":"t","type":"quantitative","scale":{"domain":[-60,500],"nice":false},"axis":null},"x2":{"field":"t2"},"y":{"field":"v","type":"quantitative","scale":{"domain":[-6,4],"nice":false},"axis":null},"y2":{"field":"v2"}}},
{"data":{"name":"legsample"},"mark":{"type":"rule","strokeWidth":3,"color":"#111"},"encoding":{"x":{"field":"t","type":"quantitative","scale":{"domain":[-60,500],"nice":false},"axis":null},"x2":{"field":"t2"},"y":{"field":"v","type":"quantitative","scale":{"domain":[-6,4],"nice":false},"axis":null},"strokeDash":{"field":"h","type":"nominal","scale":{"domain":["Left","Right"],"range":[[1,0],[3,3.5]]},"legend":null}}},
{"data":{"name":"legtext"},"mark":{"type":"text","align":"left","baseline":"middle","fontSize":20,"color":"#111"},"encoding":{"x":{"field":"t","type":"quantitative","scale":{"domain":[-60,500],"nice":false},"axis":null},"y":{"field":"v","type":"quantitative","scale":{"domain":[-6,4],"nice":false},"axis":null},"text":{"field":"text"}}},
{"data":{"name":"legital"},"mark":{"type":"text","align":"left","baseline":"middle","fontSize":20,"fontStyle":"italic","color":"#111"},"encoding":{"x":{"field":"t","type":"quantitative","scale":{"domain":[-60,500],"nice":false},"axis":null},"y":{"field":"v","type":"quantitative","scale":{"domain":[-6,4],"nice":false},"axis":null},"text":{"field":"text"}}}
]}
]
}
